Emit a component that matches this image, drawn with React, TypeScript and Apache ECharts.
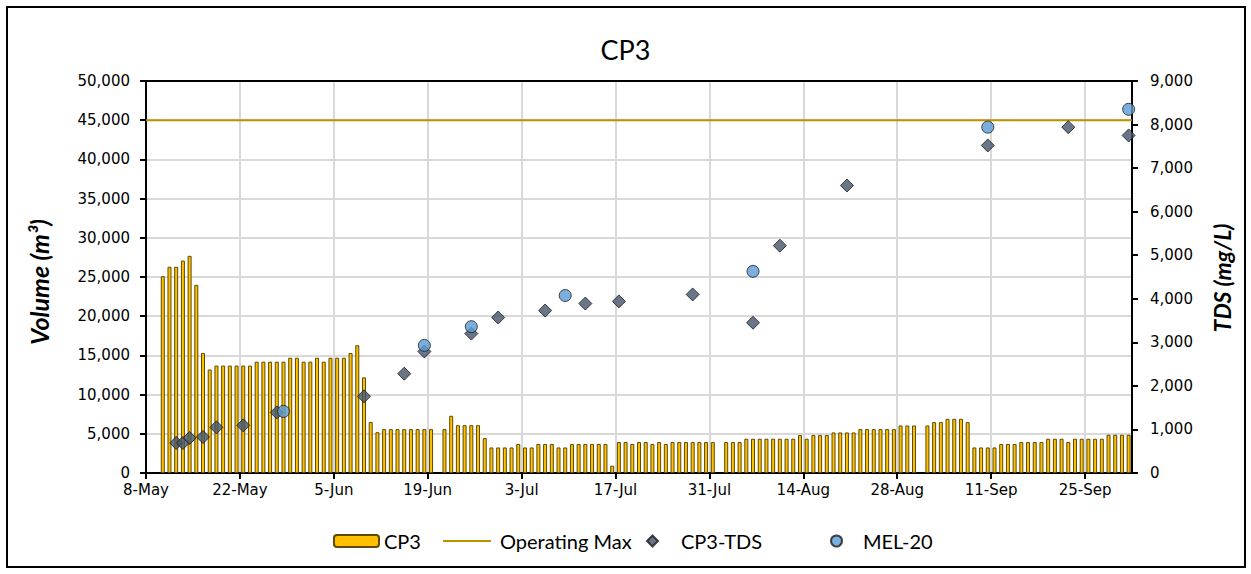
import React, { useEffect, useRef } from 'react';
import * as echarts from 'echarts';

// Day 0 = 8-May
const START = Date.UTC(2023, 4, 8);
const MONTHS = ['Jan', 'Feb', 'Mar', 'Apr', 'May', 'Jun', 'Jul', 'Aug', 'Sep', 'Oct', 'Nov', 'Dec'];
const AXIS_DAYS = 147;
const TICK_STEP = 14;

// CP3 daily volume (m3), one value per day starting 8-May (null = no record)
const cp3Volume: (number | null)[] = [
  null, null, 25100, 26300, 26300, 27100, 27700, 24000, 15300, 13200,
  13700, 13700, 13700, 13700, 13700, 13700, 14200, 14200, 14200, 14200,
  14200, 14700, 14700, 14200, 14200, 14700, 14200, 14700, 14700, 14700,
  15300, 16300, 12200, 6500, 5200, 5600, 5600, 5600, 5600, 5600,
  5600, 5600, 5600, null, 5600, 7300, 6100, 6100, 6100, 6100,
  4450, 3260, 3260, 3260, 3260, 3700, 3260, 3260, 3700, 3700,
  3700, 3260, 3260, 3700, 3700, 3700, 3700, 3700, 3700, 930,
  3950, 3950, 3700, 3950, 3950, 3700, 3950, 3700, 3950, 3950,
  3950, 3950, 3950, 3950, 3950, null, 3950, 3950, 3950, 4370,
  4370, 4370, 4370, 4370, 4370, 4370, 4370, 4840, 4370, 4840,
  4840, 4840, 5170, 5170, 5170, 5170, 5600, 5600, 5600, 5600,
  5600, 5600, 6060, 6060, 6060, null, 6060, 6490, 6490, 6910,
  6910, 6910, 6490, 3260, 3260, 3260, 3260, 3700, 3700, 3700,
  3950, 3950, 3950, 3950, 4370, 4370, 4370, 3950, 4370, 4370,
  4370, 4370, 4370, 4880, 4880, 4880, 4880,
];

const operatingMax = 45000;

// CP3-TDS (mg/L)
const tdsDays = [4, 5, 6, 8, 10, 14, 19, 32, 38, 41, 48, 52, 59, 65, 70, 81, 90, 94, 104, 125, 137, 146];
const tdsValues = [690, 690, 805, 827, 1048, 1094, 1390, 1760, 2280, 2790, 3200, 3570, 3730, 3890, 3940, 4100, 3450, 5220, 6600, 7520, 7940, 7750];

// MEL-20 TDS (mg/L)
const melDays = [20, 41, 48, 62, 90, 125, 146];
const melValues = [1415, 2930, 3360, 4075, 4630, 7940, 8350];

function dayLabel(d: number): string {
  const dt = new Date(START + d * 86400000);
  return `${dt.getUTCDate()}-${MONTHS[dt.getUTCMonth()]}`;
}

const TICK_FONT = 'DejaVu Sans';
const CAL_FONT = 'Lato';

export default function App() {
  const ref = useRef<HTMLDivElement>(null);

  useEffect(() => {
    if (!ref.current) return;
    const chart = echarts.init(ref.current, null, { renderer: 'svg' });

    const barData = cp3Volume
      .map((v, i) => (v == null ? null : [i + 0.5, v]))
      .filter((p) => p !== null);
    const tdsData = tdsDays.map((d, i) => [d + 0.5, tdsValues[i]]);
    const melData = melDays.map((d, i) => [d + 0.5, melValues[i]]);

    const axisLineStyle = { color: '#000', width: 2 };
    const tickLabel = { fontFamily: TICK_FONT, fontSize: 15, color: '#000' };
    const legendText = { fontFamily: CAL_FONT, fontSize: 20, color: '#000' };

    chart.setOption({
      animation: false,
      backgroundColor: '#fff',
      title: {
        text: 'CP3',
        left: 'center',
        top: 31,
        textStyle: { fontFamily: CAL_FONT, fontSize: 27, fontWeight: 'normal', color: '#000' },
      },
      grid: { left: 146, right: 119, top: 81, bottom: 101, containLabel: false },
      xAxis: [
        {
          type: 'value',
          min: 0,
          max: AXIS_DAYS,
          interval: TICK_STEP,
          axisLine: { show: true, onZero: false, lineStyle: axisLineStyle },
          axisTick: { show: true, length: 6, lineStyle: axisLineStyle },
          axisLabel: {
            ...tickLabel,
            margin: 9,
            showMaxLabel: false,
            formatter: (v: number) => (v % TICK_STEP === 0 ? dayLabel(v) : ''),
          },
          splitLine: { show: true, lineStyle: { color: '#D9D9D9', width: 2 } },
        },
        {
          type: 'value',
          position: 'top',
          min: 0,
          max: AXIS_DAYS,
          axisLine: { show: true, onZero: false, lineStyle: axisLineStyle },
          axisTick: { show: false },
          axisLabel: { show: false },
          splitLine: { show: false },
        },
      ],
      yAxis: [
        {
          type: 'value',
          position: 'left',
          min: 0,
          max: 50000,
          interval: 5000,
          axisLine: { show: true, onZero: false, lineStyle: axisLineStyle },
          axisTick: { show: true, length: 6, lineStyle: axisLineStyle },
          axisLabel: { ...tickLabel, margin: 16, formatter: (v: number) => v.toLocaleString('en-US') },
          splitLine: { show: true, lineStyle: { color: '#D9D9D9', width: 2 } },
        },
        {
          type: 'value',
          position: 'right',
          min: 0,
          max: 9000,
          interval: 1000,
          axisLine: { show: true, onZero: false, lineStyle: axisLineStyle },
          axisTick: { show: true, length: 6, lineStyle: axisLineStyle },
          axisLabel: { ...tickLabel, margin: 18, formatter: (v: number) => v.toLocaleString('en-US') },
          splitLine: { show: false },
        },
      ],
      legend: [
        {
          data: ['CP3'],
          left: 333,
          top: 531,
          padding: 0,
          itemWidth: 45,
          itemHeight: 12,
          textStyle: legendText,
        },
        {
          data: [{ name: 'Operating Max', icon: 'rect' }],
          left: 443,
          top: 531,
          padding: 0,
          itemWidth: 48,
          itemHeight: 2,
          textStyle: { ...legendText, padding: [0, 0, 0, 4] },
        },
        {
          data: ['CP3-TDS'],
          left: 646,
          top: 531,
          padding: 0,
          itemWidth: 11,
          itemHeight: 11,
          textStyle: { ...legendText, padding: [0, 0, 0, 18] },
        },
        {
          data: ['MEL-20'],
          left: 830,
          top: 531,
          padding: 0,
          itemWidth: 11,
          itemHeight: 11,
          textStyle: { ...legendText, padding: [0, 0, 0, 16] },
        },
      ],
      graphic: [
        {
          type: 'rect',
          shape: { x: 7, y: 7, width: 1238, height: 560 },
          style: { fill: 'none', stroke: '#000', lineWidth: 2 },
          silent: true,
        },
        {
          type: 'text',
          x: 39,
          y: 282,
          rotation: Math.PI / 2,
          style: {
            text: 'Volume (m³)',
            fontFamily: CAL_FONT,
            fontSize: 25,
            fontWeight: 'bold',
            fontStyle: 'italic',
            fill: '#000',
            align: 'center',
            verticalAlign: 'middle',
          },
        },
        {
          type: 'text',
          x: 1222,
          y: 278,
          rotation: Math.PI / 2,
          style: {
            text: 'TDS (mg/L)',
            fontFamily: CAL_FONT,
            fontSize: 23,
            fontWeight: 'bold',
            fontStyle: 'italic',
            fill: '#000',
            align: 'center',
            verticalAlign: 'middle',
          },
        },
      ],
      series: [
        {
          name: 'CP3',
          type: 'bar',
          xAxisIndex: 0,
          yAxisIndex: 0,
          data: barData,
          barWidth: 4,
          itemStyle: { color: '#FFC000', borderColor: '#5E4A00', borderWidth: 1 },
          z: 2,
        },
        {
          name: 'Operating Max',
          type: 'line',
          xAxisIndex: 0,
          yAxisIndex: 0,
          data: [
            [0, operatingMax],
            [AXIS_DAYS, operatingMax],
          ],
          symbol: 'none',
          lineStyle: { color: '#BF9000', width: 2 },
          itemStyle: { color: '#BF9000' },
          z: 3,
        },
        {
          name: 'CP3-TDS',
          type: 'scatter',
          xAxisIndex: 0,
          yAxisIndex: 1,
          data: tdsData,
          symbol: 'diamond',
          symbolSize: 13,
          itemStyle: { color: '#44546A', borderColor: '#1A1A1A', borderWidth: 1 },
          z: 4,
        },
        {
          name: 'MEL-20',
          type: 'scatter',
          xAxisIndex: 0,
          yAxisIndex: 1,
          data: melData,
          symbol: 'circle',
          symbolSize: 12,
          itemStyle: { color: '#5B9BD5', borderColor: '#1A1A1A', borderWidth: 1 },
          z: 5,
        },
      ],
    });

    return () => chart.dispose();
  }, []);

  return (
    <div
      ref={ref}
      style={{ position: 'fixed', left: 0, top: 0, width: 1251, height: 574, background: '#fff' }}
    />
  );
}
